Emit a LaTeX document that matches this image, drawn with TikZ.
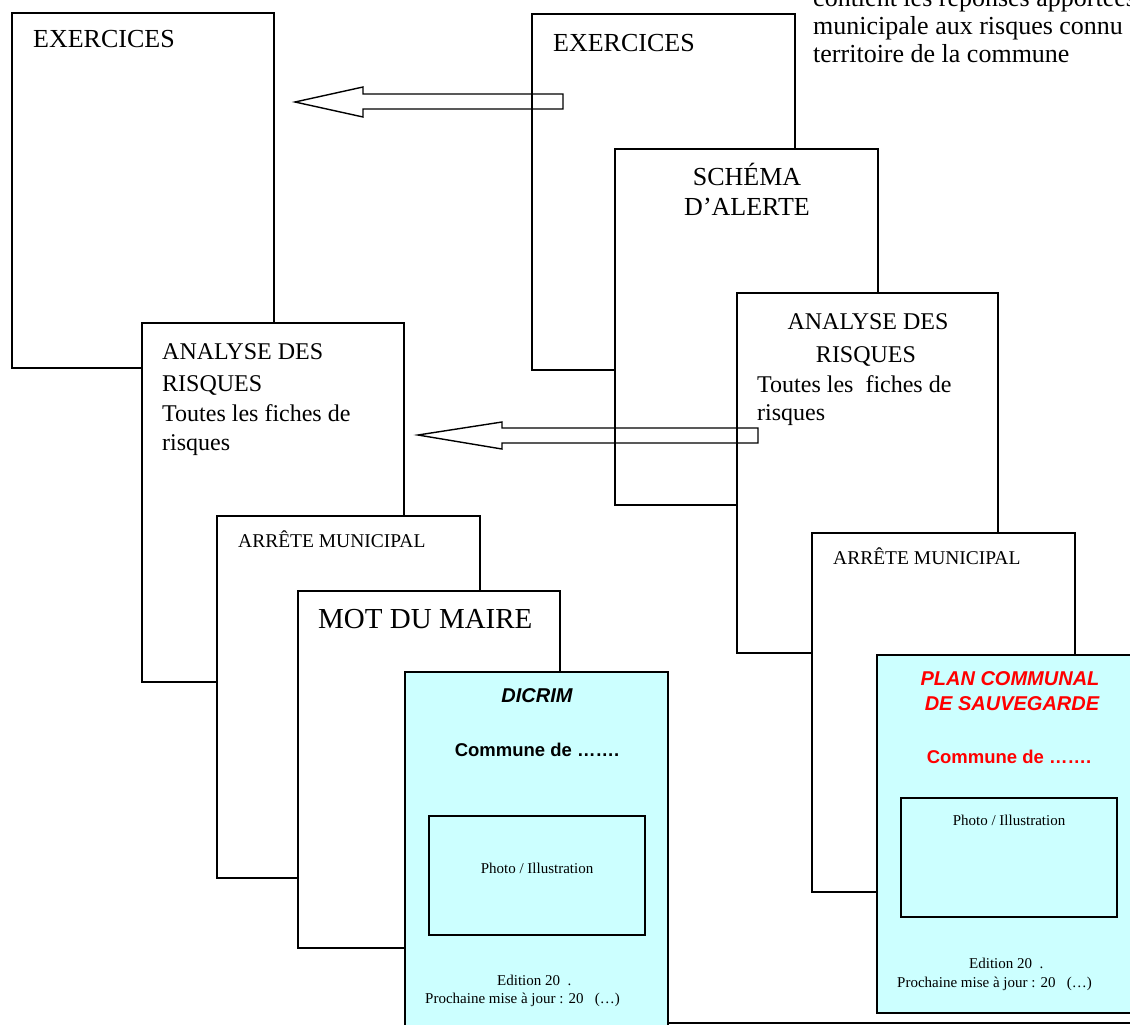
\documentclass[tikz,border=0pt]{standalone}
\usepackage{fontspec}
\setmainfont{Liberation Serif}
\newfontfamily\arialf{Liberation Sans}
\definecolor{covercyan}{HTML}{CCFFFF}
\definecolor{pcsred}{HTML}{FF0000}
\begin{document}
\begin{tikzpicture}[x=1pt,y=-1pt,
  page/.style={draw=black, fill=white, line width=1.4pt, anchor=north west, inner sep=0pt, outer sep=0pt, rectangle},
  cover/.style={page, fill=covercyan},
  photobox/.style={page, fill=none},
  tw/.style={inner sep=0pt, anchor=base west},
  tc/.style={inner sep=0pt, anchor=base},
  big/.style={font=\fontsize{26}{28}\selectfont},
  med/.style={font=\fontsize{24}{28}\selectfont},
  sml/.style={font=\fontsize{19.5}{22}\selectfont},
  mot/.style={font=\fontsize{29}{32}\selectfont},
  tiny/.style={font=\fontsize{15}{17}\selectfont},
  ctitle/.style={font=\arialf\bfseries\itshape\fontsize{20}{24}\selectfont},
  ccomm/.style={font=\arialf\bfseries\fontsize{18.5}{22}\selectfont},
  blockarrow/.style={draw=black, line width=1.4pt, line join=miter}
]
\useasboundingbox (0,0) rectangle (1130,1025);
\clip (0,0) rectangle (1130,1025);

% ---------- left stack (DICRIM) ----------
\node[page, minimum width=262, minimum height=355] (lex) at (12,13) {};
\node[page, minimum width=262, minimum height=359] (lan) at (142,323) {};
\node[page, minimum width=263, minimum height=362] (lar) at (217,516) {};
\node[page, minimum width=262, minimum height=357] (lmo) at (298,591) {};
\node[cover, minimum width=263, minimum height=375] (ldi) at (405,672) {};

\node[tw, big] (lexT) at (33,48) {EXERCICES};
\node[tw, med] (lanT1) at (162,359) {ANALYSE DES};
\node[tw, med] (lanT2) at (162,391) {RISQUES};
\node[tw, med] (lanT3) at (162,421) {Toutes les fiches de};
\node[tw, med] (lanT4) at (162,450) {risques};
\node[tw, sml] (larT) at (238,547) {ARRÊTE MUNICIPAL};
\node[tw, mot] (lmoT) at (318,628) {MOT DU MAIRE};

\node[tc, ctitle] (ldiT) at (537,702) {DICRIM};
\node[tc, ccomm] (ldiC) at (537,756) {Commune de …….};
\node[photobox, minimum width=216, minimum height=119] (ldiP) at (429,816) {};
\node[tc, tiny] (ldiPT) at (537,873) {Photo / Illustration};
\node[tw, tiny] (ldiE) at (497,985) {Edition 20\ \ .};
\node[tw, tiny] (ldiN) at (425,1003) {Prochaine mise à jour : 20\ \ \ (…)};

% ---------- right stack (PCS) ----------
\node[page, minimum width=263, minimum height=356] (rex) at (532,14) {};
\node[page, minimum width=263, minimum height=356] (rsc) at (615,149) {};
\node[page, minimum width=261, minimum height=360] (ran) at (737,293) {};
\node[page, minimum width=263, minimum height=359] (rar) at (812,533) {};
\node[cover, minimum width=266, minimum height=358] (rpc) at (877,655) {};

\node[tw, big] (rexT) at (553,52) {EXERCICES};
\node[tc, big] (rscT1) at (747,185) {SCHÉMA};
\node[tc, big] (rscT2) at (747,215) {D’ALERTE};
\node[tc, med] (ranT1) at (868,329) {ANALYSE DES};
\node[tc, med] (ranT2) at (866,362) {RISQUES};
\node[tw, med] (ranT3) at (757,392) {Toutes les\ \ fiches de};
\node[tw, med] (ranT4) at (757,420) {risques};
\node[tw, sml] (rarT) at (833,564) {ARRÊTE MUNICIPAL};

\node[tc, ctitle, text=pcsred] (rpcT1) at (1010,685) {PLAN COMMUNAL};
\node[tc, ctitle, text=pcsred] (rpcT2) at (1012,710) {DE SAUVEGARDE};
\node[tc, ccomm, text=pcsred] (rpcC) at (1009,763) {Commune de …….};
\node[photobox, minimum width=216, minimum height=119] (rpcP) at (901,798) {};
\node[tc, tiny] (rpcPT) at (1009,825) {Photo / Illustration};
\node[tw, tiny] (rpcE) at (969,968) {Edition 20\ \ .};
\node[tw, tiny] (rpcN) at (897,987) {Prochaine mise à jour : 20\ \ \ (…)};

% bottom line
\coordinate (bl) at (ldi.east |- 0,1023);
\coordinate (br) at (1140,1023);
\draw[line width=1.4pt] (bl) -- (br);

% top-right note
\node[tw, big] (note1) at (813,7) {contient les réponses apportées};
\node[tw, big] (note2) at (813,35) {municipale aux risques connu};
\node[tw, big] (note3) at (813,63) {territoire de la commune};

% ---------- block arrows ----------
\draw[blockarrow] (563,94) -- (363,94) -- (363,87) -- (295,102) -- (363,117) -- (363,109) -- (563,109) -- cycle;
\draw[blockarrow] (758,428) -- (502,428) -- (502,422) -- (418,435) -- (502,449) -- (502,443) -- (758,443) -- cycle;
\end{tikzpicture}
\end{document}
